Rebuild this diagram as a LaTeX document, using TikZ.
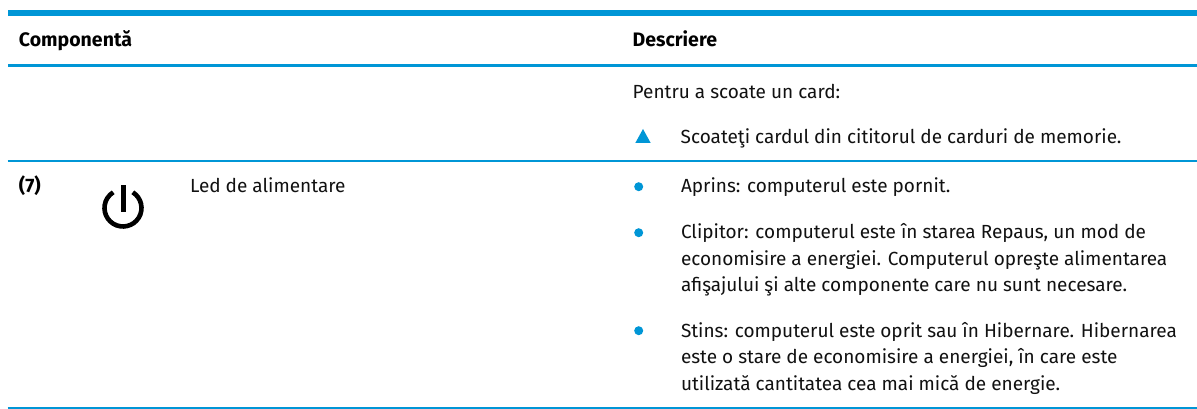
\documentclass[tikz,border=0pt]{standalone}
\usepackage{fontspec}
\setmainfont{Fira Sans}
\definecolor{hpblue}{HTML}{0096D6}
\definecolor{txt}{HTML}{111111}
\tikzset{
  x=1pt,y=-1pt,
  lbl/.style={anchor=base west,inner sep=0pt,outer sep=0pt,text=txt,font=\fontsize{19}{23}\selectfont},
  head/.style={anchor=base west,inner sep=0pt,outer sep=0pt,text=black,font=\fontsize{19.5}{23}\selectfont\bfseries},
  rulethin/.style={draw=hpblue,line width=1.3pt},
  bull/.style={circle,fill=hpblue,inner sep=0pt,minimum size=9pt}
}
\begin{document}
\begin{tikzpicture}
\useasboundingbox (0,0) rectangle (1197,409);
\fill[white] (0,0) rectangle (1197,409);
\fill[hpblue] (7.5,10) rectangle (1197,16);
\fill[hpblue] (7.5,64) rectangle (1197,67.3);
\draw[rulethin] (7.5,161) -- (1197,161);
\draw[rulethin] (7.5,408) -- (1197,408);
\node[head] at (19,46.7) {Componentă};
\node[head] at (632.7,46.7) {Descriere};
\node[lbl] at (632.7,98.3) {Pentru a scoate un card:};
\fill[hpblue] (635.3,143) -- (650.7,143) -- (643,129) -- cycle;
\node[lbl] at (680.7,143) {Scoateţi cardul din cititorul de carduri de memorie.};
\node[head] at (19,193) {(7)};
\draw[black,line width=4.6pt] (132.8,192.3) arc[start angle=-58,end angle=238,x radius=18.5,y radius=18.5];
\draw[black,line width=5pt] (123,185) -- (123,211.7);
\node[lbl] at (190,193) {Led de alimentare};
\node[bull] at (638.7,186.7) {};
\node[lbl] at (681,193) {Aprins: computerul este pornit.};
\node[bull] at (638.7,232.7) {};
\node[lbl] at (681,238.5) {Clipitor: computerul este în starea Repaus, un mod de};
\node[lbl] at (681,265) {economisire a energiei. Computerul opreşte alimentarea};
\node[lbl] at (681,291.5) {afişajului şi alte componente care nu sunt necesare.};
\node[bull] at (638.7,330.7) {};
\node[lbl] at (681,337) {Stins: computerul este oprit sau în Hibernare. Hibernarea};
\node[lbl] at (681,363.5) {este o stare de economisire a energiei, în care este};
\node[lbl] at (681,390.5) {utilizată cantitatea cea mai mică de energie.};
\end{tikzpicture}
\end{document}
